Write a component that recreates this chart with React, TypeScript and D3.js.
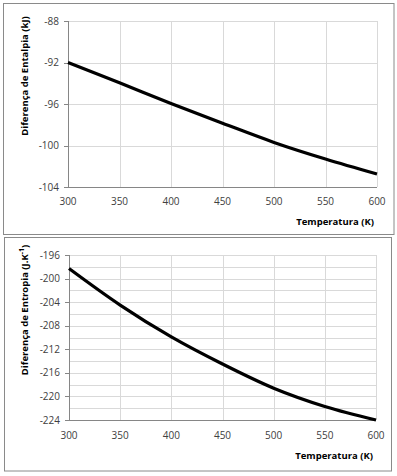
import React from "react";
import * as d3 from "d3";

const temperatures = [300, 350, 400, 450, 500, 550, 600];
const enthalpy = [-92.0, -93.95, -95.95, -97.85, -99.7, -101.3, -102.75];
const entropy = [-198.3, -204.5, -209.9, -214.5, -218.6, -221.7, -224.0];

const xTicks = [300, 350, 400, 450, 500, 550, 600];
const enthalpyTicks = [-88, -92, -96, -100, -104];
const enthalpyGrid = [-88, -92, -96, -100, -104];
const entropyTicks = [-196, -200, -204, -208, -212, -216, -220, -224];
const entropyGrid = [-196, -198, -200, -202, -204, -206, -208, -210, -212, -214, -216, -218, -220, -222, -224];

const FONT = "'Open Sans', 'DejaVu Sans', sans-serif";

type PanelProps = {
  box: [number, number, number, number];
  plot: { left: number; right: number; top: number; bottom: number };
  yDomain: [number, number];
  yTicks: number[];
  yGrid: number[];
  values: number[];
  yTitle: React.ReactNode;
  yTitleCenter: number;
  xLabelY: number;
  xTitleY: number;
  xTitleRight: number;
};

function Panel(p: PanelProps) {
  const x = d3.scaleLinear().domain([300, 600]).range([p.plot.left, p.plot.right]);
  const y = d3.scaleLinear().domain(p.yDomain).range([p.plot.bottom, p.plot.top]);
  const line = d3
    .line<number>()
    .x((_, i) => x(temperatures[i]))
    .y((d) => y(d))
    .curve(d3.curveCatmullRom.alpha(0.5));
  const [bx, by, bw, bh] = p.box;
  return (
    <g>
      <rect x={bx} y={by} width={bw} height={bh} fill="#fff" stroke="#8a8a8a" strokeWidth={1} />
      {p.yGrid.map((v) => (
        <line key={"h" + v} x1={p.plot.left} x2={p.plot.right} y1={Math.round(y(v)) + 0.5} y2={Math.round(y(v)) + 0.5} stroke="#d9d9d9" strokeWidth={1} />
      ))}
      {xTicks.map((v) => (
        <line key={"v" + v} x1={Math.round(x(v)) + 0.5} x2={Math.round(x(v)) + 0.5} y1={p.plot.top} y2={p.plot.bottom} stroke="#d9d9d9" strokeWidth={1} />
      ))}
      <line x1={p.plot.left + 0.5} x2={p.plot.left + 0.5} y1={p.plot.top} y2={p.plot.bottom} stroke="#868686" />
      <line x1={p.plot.left} x2={p.plot.right} y1={Math.round(p.plot.bottom) + 0.5} y2={Math.round(p.plot.bottom) + 0.5} stroke="#868686" />
      {p.yTicks.map((v) => (
        <g key={"yt" + v}>
          <line x1={p.plot.left - 4} x2={p.plot.left} y1={Math.round(y(v)) + 0.5} y2={Math.round(y(v)) + 0.5} stroke="#868686" />
          <text x={p.plot.left - 9} y={y(v) + 3.5} textAnchor="end" fontSize={10} fontFamily={FONT} fill="#404040">
            {v}
          </text>
        </g>
      ))}
      {xTicks.map((v) => (
        <text key={"xt" + v} x={x(v)} y={p.xLabelY} textAnchor="middle" fontSize={10} fontFamily={FONT} fill="#404040">
          {v}
        </text>
      ))}
      <path d={line(p.values) || ""} fill="none" stroke="#000" strokeWidth={3.2} strokeLinecap="butt" />
      <text x={p.xTitleRight} y={p.xTitleY} textAnchor="end" fontSize={9.5} fontWeight="bold" fontFamily={FONT} fill="#000">
        Temperatura (K)
      </text>
      <text transform={`translate(27.5,${p.yTitleCenter}) rotate(-90)`} textAnchor="middle" fontSize={9.5} fontWeight="bold" fontFamily={FONT} fill="#000">
        {p.yTitle}
      </text>
    </g>
  );
}

export default function App() {
  return (
    <svg width={397} height={476} style={{ position: "absolute", left: 0, top: 0, background: "#fff" }}>
      <rect x={0} y={0} width={397} height={476} fill="#fff" />
      <Panel
        box={[3.5, 3.5, 390.5, 231]}
        plot={{ left: 68, right: 377, top: 21, bottom: 187 }}
        yDomain={[-104, -88]}
        yTicks={enthalpyTicks}
        yGrid={enthalpyGrid}
        values={enthalpy}
        yTitle="Diferença de Entalpia (kJ)"
        yTitleCenter={76}
        xLabelY={205}
        xTitleY={225}
        xTitleRight={374}
      />
      <Panel
        box={[4.5, 237.5, 387, 233.5]}
        plot={{ left: 69, right: 376, top: 255, bottom: 420 }}
        yDomain={[-224, -196]}
        yTicks={entropyTicks}
        yGrid={entropyGrid}
        values={entropy}
        yTitle={
          <>
            Diferença de Entropia (J.K
            <tspan dy={-4} fontSize={7}>-1</tspan>
            <tspan dy={4}>)</tspan>
          </>
        }
        yTitleCenter={310}
        xLabelY={439}
        xTitleY={459}
        xTitleRight={373}
      />
    </svg>
  );
}
